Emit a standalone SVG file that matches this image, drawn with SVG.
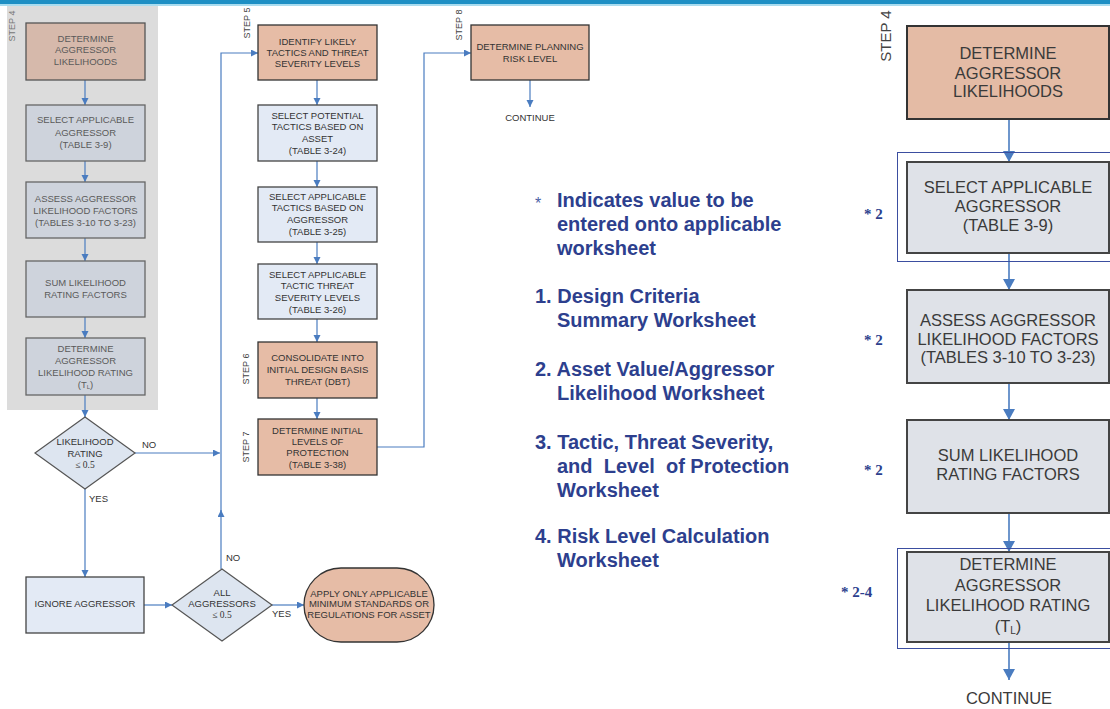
<svg xmlns="http://www.w3.org/2000/svg" width="1110" height="709" viewBox="0 0 1110 709">
<style>
  .t{font-family:"Liberation Sans",Arial,sans-serif;font-size:9.5px;fill:#333;text-anchor:middle}
  .tg{font-family:"Liberation Sans",Arial,sans-serif;font-size:9.5px;fill:#5a5a5a;text-anchor:middle}
  .tb{font-family:"Liberation Sans",Arial,sans-serif;font-size:16.5px;fill:#3a3a3a;text-anchor:middle}
  .step{font-family:"Liberation Sans",Arial,sans-serif;font-size:9px;fill:#444;text-anchor:middle}
  .stepg{font-family:"Liberation Sans",Arial,sans-serif;font-size:9px;fill:#777;text-anchor:middle}
  .stepb{font-family:"Liberation Sans",Arial,sans-serif;font-size:15px;fill:#444;text-anchor:middle}
  .serif{font-family:"Liberation Serif","Times New Roman",serif}
  .lab{font-family:"Liberation Sans",Arial,sans-serif;font-size:9.5px;fill:#333}
  .leg{font-family:"Liberation Sans",Arial,sans-serif;font-size:20px;font-weight:bold;fill:#2d3f8e}
  .star{font-family:"Liberation Serif","Times New Roman",serif;font-size:15px;font-weight:bold;fill:#2d3f8e}
  .salmon{fill:#e6bca6;stroke:#333;stroke-width:1.3}
  .salmonG{fill:#d6b9ab;stroke:#555;stroke-width:1.3}
  .light{fill:#e3eaf5;stroke:#444;stroke-width:1.3}
  .grayb{fill:#ced3dc;stroke:#666;stroke-width:1.3}
  .bigS{fill:#e4bba5;stroke:#333;stroke-width:2}
  .bigG{fill:#dfe2e8;stroke:#444;stroke-width:2}
  .frame{fill:none;stroke:#3b4ea0;stroke-width:1}
  .dia{fill:#dde5f0;stroke:#555;stroke-width:1.2}
  .c{fill:none;stroke:#4a7cc0;stroke-width:1.2}
  .cb{fill:none;stroke:#4a7cc0;stroke-width:1.6}
</style>
<defs>
  <marker id="ah" markerUnits="userSpaceOnUse" markerWidth="8" markerHeight="8" refX="7" refY="3.5" orient="auto">
    <path d="M0,0 L7,3.5 L0,7 z" fill="#4a7cc0"/>
  </marker>
  <marker id="ahb" markerUnits="userSpaceOnUse" markerWidth="13" markerHeight="13" refX="11" refY="6" orient="auto">
    <path d="M0,0 L11,6 L0,12 z" fill="#4a7cc0"/>
  </marker>
</defs>
<rect x="0" y="0" width="1110" height="709" fill="#ffffff"/>
<rect x="0" y="0" width="1110" height="4" fill="#1e8fc4"/>
<rect x="0" y="4" width="1110" height="2" fill="#a9dcef"/>
<rect x="7" y="6" width="151" height="404" fill="#dcdcdc"/>
<text class="stepg" transform="translate(15,26) rotate(-90)">STEP 4</text>

<g id="connectors">
  <line class="c" x1="85" y1="80" x2="85" y2="105" marker-end="url(#ah)"/>
  <line class="c" x1="85" y1="161" x2="85" y2="182" marker-end="url(#ah)"/>
  <line class="c" x1="85" y1="238" x2="85" y2="261" marker-end="url(#ah)"/>
  <line class="c" x1="85" y1="317" x2="85" y2="338" marker-end="url(#ah)"/>
  <line class="c" x1="85" y1="395" x2="85" y2="417" marker-end="url(#ah)"/>
  <line class="c" x1="135" y1="453" x2="220" y2="453" marker-end="url(#ah)"/>
  <line class="c" x1="85" y1="489" x2="85" y2="577" marker-end="url(#ah)"/>
  <line class="c" x1="144" y1="605" x2="172" y2="605" marker-end="url(#ah)"/>
  <line class="c" x1="272" y1="605" x2="304" y2="605" marker-end="url(#ah)"/>
  <line class="c" x1="221" y1="569" x2="221" y2="510" marker-end="url(#ah)"/>
  <polyline class="c" points="221,515 221,53 258,53" marker-end="url(#ah)"/>
  <line class="c" x1="317" y1="80" x2="317" y2="105" marker-end="url(#ah)"/>
  <line class="c" x1="317" y1="161" x2="317" y2="187" marker-end="url(#ah)"/>
  <line class="c" x1="317" y1="242" x2="317" y2="264" marker-end="url(#ah)"/>
  <line class="c" x1="317" y1="319" x2="317" y2="342" marker-end="url(#ah)"/>
  <line class="c" x1="317" y1="398" x2="317" y2="419" marker-end="url(#ah)"/>
  <polyline class="c" points="377,447 424,447 424,53 471,53" marker-end="url(#ah)"/>
  <line class="c" x1="530" y1="80" x2="530" y2="107" marker-end="url(#ah)"/>
  <line class="cb" x1="1009" y1="119" x2="1009" y2="162" marker-end="url(#ahb)"/>
  <line class="cb" x1="1009" y1="253" x2="1009" y2="290" marker-end="url(#ahb)"/>
  <line class="cb" x1="1009" y1="383" x2="1009" y2="420" marker-end="url(#ahb)"/>
  <line class="cb" x1="1009" y1="513" x2="1009" y2="552" marker-end="url(#ahb)"/>
  <line class="cb" x1="1009" y1="642" x2="1009" y2="680" marker-end="url(#ahb)"/>
</g>

<g id="labels">
  <text class="lab" x="142" y="448">NO</text>
  <text class="lab" x="89" y="502">YES</text>
  <text class="lab" x="226" y="561">NO</text>
  <text class="lab" x="272" y="617">YES</text>
</g>

<g id="l1"><rect class="salmonG" x="26" y="23" width="119" height="57"/>
  <text class="tg" x="85.5" y="41.5">DETERMINE</text><text class="tg" x="85.5" y="53">AGGRESSOR</text><text class="tg" x="85.5" y="64.5">LIKELIHOODS</text></g>
<g id="l2"><rect class="grayb" x="26" y="105" width="119" height="56"/>
  <text class="tg" x="85.5" y="123">SELECT APPLICABLE</text><text class="tg" x="85.5" y="135.5">AGGRESSOR</text><text class="tg" x="85.5" y="148">(TABLE 3-9)</text></g>
<g id="l3"><rect class="grayb" x="26" y="182" width="119" height="56"/>
  <text class="tg" x="85.5" y="201.5">ASSESS AGGRESSOR</text><text class="tg" x="85.5" y="213.5">LIKELIHOOD FACTORS</text><text class="tg" x="85.5" y="226">(TABLES 3-10 TO 3-23)</text></g>
<g id="l4"><rect class="grayb" x="26" y="261" width="119" height="56"/>
  <text class="tg" x="85.5" y="285.5">SUM LIKELIHOOD</text><text class="tg" x="85.5" y="297.5">RATING FACTORS</text></g>
<g id="l5"><rect class="grayb" x="26" y="338" width="119" height="57"/>
  <text class="tg" x="85.5" y="351.5">DETERMINE</text><text class="tg" x="85.5" y="363.5">AGGRESSOR</text><text class="tg" x="85.5" y="375.5">LIKELIHOOD RATING</text><text class="tg" x="85.5" y="387.5">(T<tspan font-size="6" dy="1.5">L</tspan><tspan dy="-1.5">)</tspan></text></g>

<g id="d1"><polygon class="dia" points="85,417 135,453 85,489 35,453"/>
  <text class="t" x="85" y="444.5">LIKELIHOOD</text><text class="t" x="85" y="456.5">RATING</text><text class="t serif" x="85" y="468" fill="#666">≤ 0.5</text></g>
<g id="ignore"><rect class="light" x="26" y="577" width="118" height="56"/>
  <text class="t" x="85" y="606.5">IGNORE AGGRESSOR</text></g>
<g id="d2"><polygon class="dia" points="222,569 272,605 222,641 172,605"/>
  <text class="t" x="222" y="595.5">ALL</text><text class="t" x="222" y="606.5">AGGRESSORS</text><text class="t serif" x="222" y="618" fill="#666">≤ 0.5</text></g>
<g id="apply"><rect class="salmon" x="304" y="568" width="130" height="74" rx="37" ry="37"/>
  <text class="t" x="369" y="596.5">APPLY ONLY APPLICABLE</text><text class="t" x="369" y="607">MINIMUM STANDARDS OR</text><text class="t" x="369" y="617.5">REGULATIONS FOR ASSET</text></g>

<g id="s5"><text class="step" transform="translate(250,23) rotate(-90)">STEP 5</text>
  <rect class="salmon" x="258" y="25" width="119" height="55"/>
  <text class="t" x="317.5" y="44.5">IDENTIFY LIKELY</text><text class="t" x="317.5" y="55.5">TACTICS AND THREAT</text><text class="t" x="317.5" y="66.5">SEVERITY LEVELS</text></g>
<g id="m2"><rect class="light" x="258" y="105" width="119" height="56"/>
  <text class="t" x="317.5" y="118.5">SELECT POTENTIAL</text><text class="t" x="317.5" y="130">TACTICS BASED ON</text><text class="t" x="317.5" y="141.5">ASSET</text><text class="t" x="317.5" y="154">(TABLE 3-24)</text></g>
<g id="m3"><rect class="light" x="258" y="187" width="119" height="55"/>
  <text class="t" x="317.5" y="199.5">SELECT APPLICABLE</text><text class="t" x="317.5" y="211">TACTICS BASED ON</text><text class="t" x="317.5" y="222.5">AGGRESSOR</text><text class="t" x="317.5" y="235">(TABLE 3-25)</text></g>
<g id="m4"><rect class="light" x="258" y="264" width="119" height="55"/>
  <text class="t" x="317.5" y="277.5">SELECT APPLICABLE</text><text class="t" x="317.5" y="289">TACTIC THREAT</text><text class="t" x="317.5" y="301">SEVERITY LEVELS</text><text class="t" x="317.5" y="312.5">(TABLE 3-26)</text></g>
<g id="s6"><text class="step" transform="translate(249,369) rotate(-90)">STEP 6</text>
  <rect class="salmon" x="258" y="342" width="119" height="56"/>
  <text class="t" x="317.5" y="360.5">CONSOLIDATE INTO</text><text class="t" x="317.5" y="372.5">INITIAL DESIGN BASIS</text><text class="t" x="317.5" y="384.5">THREAT (DBT)</text></g>
<g id="s7"><text class="step" transform="translate(249,447) rotate(-90)">STEP 7</text>
  <rect class="salmon" x="258" y="419" width="119" height="56"/>
  <text class="t" x="317.5" y="433.5">DETERMINE INITIAL</text><text class="t" x="317.5" y="444.5">LEVELS OF</text><text class="t" x="317.5" y="455.5">PROTECTION</text><text class="t" x="317.5" y="468">(TABLE 3-38)</text></g>
<g id="s8"><text class="step" transform="translate(462,25) rotate(-90)">STEP 8</text>
  <rect class="salmon" x="471" y="25" width="118" height="55"/>
  <text class="t" x="530" y="50">DETERMINE PLANNING</text><text class="t" x="530" y="61.5">RISK LEVEL</text>
  <text class="t" x="530" y="121">CONTINUE</text></g>

<g id="legend">
  <text x="535" y="209" font-family="Liberation Sans,Arial,sans-serif" font-size="16" fill="#4a5fa5">*</text>
  <text class="leg" x="557" y="207">Indicates value to be</text>
  <text class="leg" x="557" y="231">entered onto applicable</text>
  <text class="leg" x="557" y="255">worksheet</text>
  <text class="leg" x="535" y="303">1. Design Criteria</text>
  <text class="leg" x="557" y="327">Summary Worksheet</text>
  <text class="leg" x="535" y="376">2. Asset Value/Aggressor</text>
  <text class="leg" x="557" y="400">Likelihood Worksheet</text>
  <text class="leg" x="535" y="449">3. Tactic, Threat Severity,</text>
  <text class="leg" x="557" y="473" xml:space="preserve">and  Level  of Protection</text>
  <text class="leg" x="557" y="497">Worksheet</text>
  <text class="leg" x="535" y="543">4. Risk Level Calculation</text>
  <text class="leg" x="557" y="567">Worksheet</text>
</g>

<g id="r1"><text class="stepb" transform="translate(891,36) rotate(-90)">STEP 4</text>
  <rect class="bigS" x="907" y="26" width="202" height="93"/>
  <text class="tb" x="1008" y="59">DETERMINE</text><text class="tb" x="1008" y="79">AGGRESSOR</text><text class="tb" x="1008" y="97">LIKELIHOODS</text></g>
<g id="r2"><rect class="frame" x="897.5" y="152.5" width="220" height="109"/>
  <rect class="bigG" x="907" y="162" width="202" height="91"/>
  <text class="tb" x="1008" y="193">SELECT APPLICABLE</text><text class="tb" x="1008" y="212">AGGRESSOR</text><text class="tb" x="1008" y="231">(TABLE 3-9)</text>
  <text class="star" x="864" y="219">* 2</text></g>
<g id="r3"><rect class="bigG" x="907" y="290" width="202" height="93"/>
  <text class="tb" x="1008" y="326">ASSESS AGGRESSOR</text><text class="tb" x="1008" y="344.5">LIKELIHOOD FACTORS</text><text class="tb" x="1008" y="363">(TABLES 3-10 TO 3-23)</text>
  <text class="star" x="864" y="345">* 2</text></g>
<g id="r4"><rect class="bigG" x="907" y="420" width="202" height="93"/>
  <text class="tb" x="1008" y="461">SUM LIKELIHOOD</text><text class="tb" x="1008" y="480">RATING FACTORS</text>
  <text class="star" x="864" y="475">* 2</text></g>
<g id="r5"><rect class="frame" x="897.5" y="548.5" width="220" height="100"/>
  <rect class="bigG" x="907" y="552" width="202" height="90"/>
  <text class="tb" x="1008" y="570">DETERMINE</text><text class="tb" x="1008" y="591">AGGRESSOR</text><text class="tb" x="1008" y="611">LIKELIHOOD RATING</text><text class="tb" x="1008" y="632">(T<tspan font-size="10" dy="2">L</tspan><tspan dy="-2">)</tspan></text>
  <text class="star" x="841" y="597">* 2-4</text>
  <text class="tb" x="1009" y="704">CONTINUE</text></g>
</svg>
